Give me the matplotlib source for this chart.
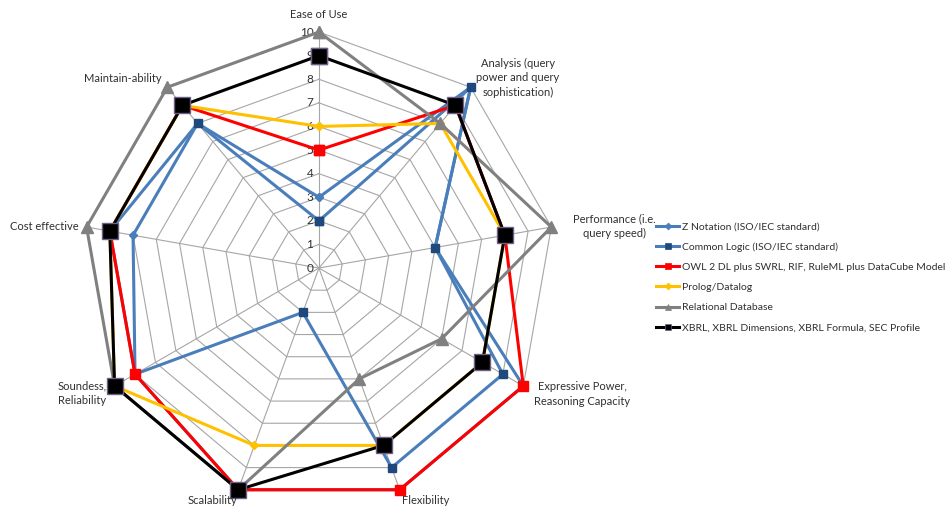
import numpy as np
import matplotlib
matplotlib.use("Agg")
import matplotlib.pyplot as plt
from matplotlib.lines import Line2D

plt.rcParams['font.family'] = ['Lato', 'DejaVu Sans']

# Data
categories = ["Ease of Use", "Analysis", "Performance", "Expressive Power",
              "Flexibility", "Scalability", "Soundness", "Cost effective",
              "Maintain-ability"]
z_notation = [3, 10, 5, 10, 10, 10, 9, 8, 8]
common_logic = [2, 10, 5, 9, 9, 2, 9, 9, 8]
owl2 = [5, 9, 8, 10, 10, 10, 9, 9, 9]
prolog = [6, 8, 8, 8, 8, 8, 10, 9, 9]
relational = [10, 8, 10, 6, 5, 10, 10, 10, 10]
xbrl = [9, 9, 8, 8, 8, 10, 10, 9, 9]
ticks = list(range(0, 11))

# name, values, style, legend marker size
series = [
    ("Z Notation (ISO/IEC standard)", z_notation,
     dict(color='#4A7EBB', marker='D', ms=4, mfc='#4A7EBB', mec='#4A7EBB'), 3.5),
    ("Common Logic (ISO/IEC standard)", common_logic,
     dict(color='#4A7EBB', marker='s', ms=5.5, mfc='#1F497D', mec='#1F497D'), 4.5),
    ("OWL 2 DL plus SWRL, RIF, RuleML plus DataCube Model", owl2,
     dict(color='#FF0000', marker='s', ms=7, mfc='#FF0000', mec='#FF0000'), 5),
    ("Prolog/Datalog", prolog,
     dict(color='#FFC000', marker='D', ms=4, mfc='#FFC000', mec='#FFC000'), 3.5),
    ("Relational Database", relational,
     dict(color='#808080', marker='^', ms=8, mfc='#808080', mec='#808080'), 5),
    ("XBRL, XBRL Dimensions, XBRL Formula, SEC Profile", xbrl,
     dict(color='#000000', marker='s', ms=11, mfc='#000000', mec='#6E6084', mew=1), 5),
]

n = len(categories)
angles = np.linspace(0, 2 * np.pi, n, endpoint=False)
closed = np.append(angles, angles[0])

fig = plt.figure(figsize=(9.47, 5.08), dpi=100)
ax = fig.add_axes([0.0876, 0.0079, 0.4984, 0.929], projection='polar')
ax.set_theta_offset(np.pi / 2)
ax.set_theta_direction(-1)
ax.set_ylim(0, 10)
ax.grid(False)
ax.set_xticks([])
ax.set_yticks([])
ax.spines['polar'].set_visible(False)
ax.patch.set_alpha(0)

# polygon grid + spokes
for r in ticks[1:]:
    ax.plot(closed, [r] * (n + 1), color='#A6A6A6', lw=0.8, zorder=1)
for a in angles:
    ax.plot([a, a], [0, 10], color='#A6A6A6', lw=0.8, zorder=1)

# radial tick labels
for r in ticks:
    ax.annotate(str(r), (0, r), xytext=(-4, 0), textcoords='offset points',
                ha='right', va='center', fontsize=8.5, color='#303030')

handles = []
for i, (name, vals, st, lms) in enumerate(series):
    v = vals + vals[:1]
    ax.plot(closed, v, lw=2.2, clip_on=False, zorder=3 + i, **st)
    st2 = dict(st)
    st2['ms'] = lms
    st2['mew'] = 0.5
    handles.append(Line2D([], [], lw=2.2, label=name, **st2))

# category labels
lab = [
    ("Ease of Use", 319, 14),
    ("Analysis (query\npower and query\nsophistication)", 518, 78),
    ("Performance (i.e.\nquery speed)", 614, 226),
    ("Expressive Power,\nReasoning Capacity", 582, 394),
    ("Flexibility", 426, 501),
    ("Scalability", 212, 501),
    ("Soundess,\nReliability", 82, 393),
    ("Cost effective", 44, 226),
    ("Maintain-ability", 123, 79),
]
for txt, x, y in lab:
    fig.text(x / 947, 1 - y / 508, txt, ha='center', va='center', fontsize=8,
             color='#303030', linespacing=1.35)

fig.legend(handles=handles, loc='upper left', bbox_to_anchor=(651 / 947, 1 - 217 / 508),
           frameon=False, fontsize=7.5, handlelength=2.2, labelspacing=1.04,
           handletextpad=0.25, borderpad=0, labelcolor='#303030')

fig.savefig("out.png", dpi=100)
